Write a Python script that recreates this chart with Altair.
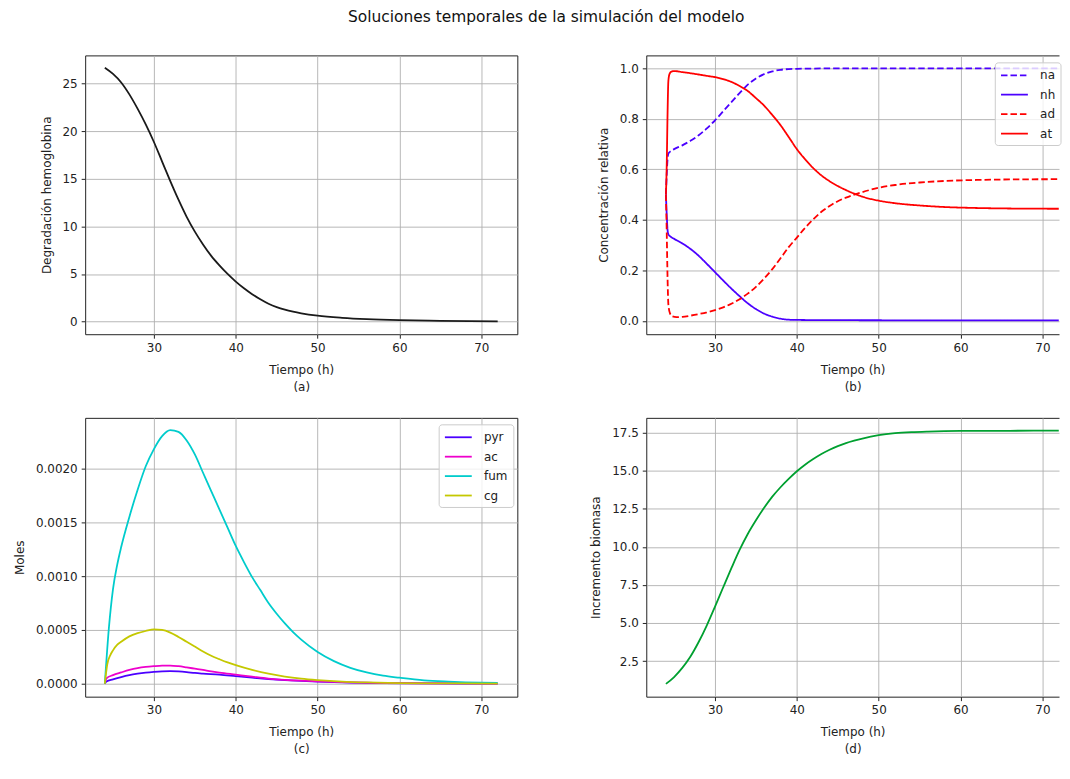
import altair as alt
import pandas as pd

# ---------------- data ----------------
# (a) Degradación hemoglobina
hb_t = [24, 25, 26, 27, 28, 29, 30, 31, 32, 33, 34, 35, 36, 37, 38, 39, 40,
        41, 42, 43, 44, 45, 46, 47, 48, 50, 53, 56, 60, 65, 72]
hb_v = [26.65, 26.0, 25.1, 23.85, 22.35, 20.7, 18.85, 16.8, 14.75, 12.8, 11.0,
        9.45, 8.1, 6.9, 5.9, 5.0, 4.2, 3.5, 2.88, 2.35, 1.88, 1.52, 1.25, 1.04,
        0.87, 0.62, 0.4, 0.26, 0.15, 0.08, 0.03]

# (b) Concentración relativa
na_t = [24.0, 24.1, 24.2, 24.3, 24.6, 25, 26, 27, 28, 29, 30, 31, 32, 33, 34,
        35, 36, 37, 38, 39, 40, 42, 45, 72]
na_v = [0.50, 0.58, 0.64, 0.662, 0.672, 0.68, 0.695, 0.713, 0.735, 0.762, 0.794,
        0.83, 0.866, 0.902, 0.935, 0.96, 0.977, 0.988, 0.994, 0.997, 0.998,
        0.999, 1.0, 1.0]
nh_t = [24.0, 24.1, 24.2, 24.3, 24.6, 25, 26, 27, 28, 29, 30, 31, 32, 33, 34,
        35, 36, 37, 38, 39, 40, 45, 72]
nh_v = [0.50, 0.42, 0.36, 0.343, 0.333, 0.325, 0.307, 0.285, 0.258, 0.226,
        0.193, 0.16, 0.128, 0.098, 0.07, 0.047, 0.029, 0.017, 0.009, 0.005,
        0.004, 0.003, 0.002]
ad_t = [24.0, 24.1, 24.2, 24.3, 24.5, 24.8, 25.3, 26, 27, 28, 29, 30, 31, 32,
        33, 34, 35, 36, 37, 38, 39, 40, 41, 42, 43, 44, 45, 46, 47, 48, 50, 52,
        55, 58, 62, 66, 72]
ad_v = [0.50, 0.35, 0.17, 0.065, 0.03, 0.018, 0.015, 0.016, 0.021, 0.027,
        0.034, 0.043, 0.054, 0.068, 0.086, 0.108, 0.135, 0.168, 0.205, 0.248,
        0.292, 0.33, 0.368, 0.402, 0.432, 0.455, 0.474, 0.488, 0.5, 0.51,
        0.527, 0.538, 0.548, 0.554, 0.558, 0.56, 0.561]
at_t = [24.0, 24.1, 24.2, 24.3, 24.45, 24.7, 25, 26, 27.5, 29, 30, 31, 32, 33,
        34, 35, 36, 37, 38, 39, 40, 41, 42, 43, 44, 45, 46, 47, 48, 50, 52, 55,
        58, 62, 66, 72]
at_v = [0.50, 0.62, 0.82, 0.95, 0.978, 0.987, 0.989, 0.985, 0.978, 0.97,
        0.965, 0.957, 0.946, 0.93, 0.91, 0.882, 0.852, 0.815, 0.775, 0.728,
        0.68, 0.64, 0.605, 0.576, 0.553, 0.534, 0.518, 0.504, 0.492, 0.476,
        0.466, 0.457, 0.451, 0.447, 0.445, 0.444]

# (c) Moles
pyr_t = [24, 24.2, 25, 26, 27, 28, 29, 30, 31, 32, 33, 34, 35, 36, 38, 40, 42,
         44, 46, 48, 50, 54, 58, 64, 72]
pyr_v = [0.0, 0.00002, 0.00004, 0.000062, 0.00008, 0.000093, 0.000103, 0.00011,
         0.000115, 0.000117, 0.000114, 0.000108, 0.0001, 0.000094, 0.000084,
         0.00007, 0.000056, 0.000044, 0.000034, 0.000026, 0.00002, 0.000011,
         0.000006, 0.000003, 0.000002]
ac_t = [24, 24.2, 25, 26, 27, 28, 29, 30, 31, 32, 33, 34, 35, 36, 37, 38, 40,
        42, 44, 46, 48, 50, 54, 58, 64, 72]
ac_v = [0.0, 0.00005, 0.00008, 0.000105, 0.000128, 0.000145, 0.000156,
        0.000163, 0.000168, 0.000169, 0.000163, 0.000152, 0.00014, 0.000128,
        0.000115, 0.000104, 0.000085, 0.000066, 0.000048, 0.000036, 0.000028,
        0.000022, 0.000012, 0.000007, 0.000004, 0.000002]
fum_t = [24, 24.5, 25, 25.5, 26, 27, 28, 29, 30, 31, 32, 33, 34, 35, 36, 37,
         38, 39, 40, 41, 42, 43, 44, 45, 46, 47, 48, 50, 52, 54, 56, 58, 60,
         63, 66, 70, 72]
fum_v = [0.0, 0.00052, 0.00088, 0.0011, 0.00127, 0.00155, 0.0018, 0.00202,
         0.00218, 0.0023, 0.002356, 0.00234, 0.00226, 0.00213, 0.00196,
         0.00179, 0.00162, 0.00145, 0.00128, 0.00113, 0.00099, 0.00087,
         0.00075, 0.00065, 0.00056, 0.00048, 0.00041, 0.000295, 0.00021,
         0.000148, 0.000105, 0.000075, 0.000056, 0.000032, 0.00002, 0.00001,
         0.000008]
cg_t = [24, 24.3, 24.7, 25, 25.5, 26, 27, 28, 29, 30, 31, 32, 33, 34, 35, 36,
        37, 38, 39, 40, 42, 44, 46, 48, 50, 53, 56, 60, 66, 72]
cg_v = [0.0, 0.00018, 0.00027, 0.00031, 0.00036, 0.00039, 0.00044, 0.00047,
        0.00049, 0.000505, 0.0005, 0.000475, 0.000435, 0.00039, 0.000345,
        0.0003, 0.00026, 0.000228, 0.000198, 0.000172, 0.000128, 0.000093,
        0.000066, 0.000047, 0.000034, 0.00002, 0.000012, 0.000006, 0.000003,
        0.000002]

# (d) Incremento biomasa
bio_t = [24, 25, 26, 27, 28, 29, 30, 31, 32, 33, 34, 35, 36, 37, 38, 39, 40,
         41, 42, 43, 44, 45, 46, 47, 48, 50, 52, 54, 56, 60, 66, 72]
bio_v = [1.0, 1.45, 2.05, 2.8, 3.75, 4.85, 6.08, 7.35, 8.6, 9.8, 10.85, 11.75,
         12.57, 13.3, 13.92, 14.47, 14.97, 15.4, 15.77, 16.1, 16.38, 16.62,
         16.82, 16.98, 17.12, 17.34, 17.47, 17.54, 17.58, 17.62, 17.63, 17.64]

b_names = ["na", "nh", "ad", "at"]
b_colors = ["#4b00ff", "#4b00ff", "#ff0000", "#ff0000"]
b_dashes = [[6.5, 3], [1, 0], [6.5, 3], [1, 0]]
c_names = ["pyr", "ac", "fum", "cg"]
c_colors = ["#4b00ff", "#ee00cc", "#00cccc", "#c4c800"]

x_ticks = [30, 40, 50, 60, 70]

# ---------------- styling ----------------
FONT = "DejaVu Sans"
TXT = "#222222"
FRAME = "#222222"
WL, WR, H = 434, 414.5, 280
XDOM_L = [21.6, 74.4]
XDOM_R = [21.6, 72.03]   # right column is cut by the picture edge, as in the reference


def long_df(names, series):
    rows = []
    for name, (ts, vs) in zip(names, series):
        for t, v in zip(ts, vs):
            rows.append({"t": t, "v": v, "s": name})
    return pd.DataFrame(rows)


def xenc(caption, dom):
    return alt.X("t:Q",
                 scale=alt.Scale(domain=dom, nice=False, zero=False),
                 axis=alt.Axis(values=x_ticks, format="d",
                               title=["Tiempo (h)", caption]))


def yenc(title, dom, ticks, fmt):
    return alt.Y("v:Q",
                 scale=alt.Scale(domain=dom, nice=False, zero=False),
                 axis=alt.Axis(values=ticks, format=fmt, title=title))


def legend(lx, ly):
    return alt.Legend(title=None, orient="none", legendX=lx, legendY=ly,
                      symbolType="M-2,0H2", symbolSize=182, symbolOffset=6.75,
                      symbolStrokeWidth=1.8, labelOffset=17.75, rowPadding=5.5,
                      padding=5, fillColor="rgba(255,255,255,0.8)",
                      strokeColor="#cccccc", cornerRadius=3,
                      labelFont=FONT, labelFontSize=12, labelColor=TXT)


# right-hand frames: top, bottom and left sides only (the right side is off the picture)
right_view = alt.ViewBackground(stroke=FRAME, strokeWidth=1,
                                strokeDash=[WR, H, WR + H + 1, 2])

line = dict(strokeWidth=1.8, interpolate="monotone", clip=True)

df_a = pd.DataFrame({"t": hb_t, "v": hb_v})
pa = alt.Chart(df_a).mark_line(color="#1a1a1a", **line).encode(
    x=xenc("(a)", XDOM_L),
    y=yenc("Degradación hemoglobina", [-1.32, 27.94], [0, 5, 10, 15, 20, 25], "d"),
).properties(width=WL, height=H)

df_b = long_df(b_names, [(na_t, na_v), (nh_t, nh_v), (ad_t, ad_v), (at_t, at_v)])
lb = legend(350, 7)
pb = alt.Chart(df_b).mark_line(**line).encode(
    x=xenc("(b)", XDOM_R),
    y=yenc("Concentración relativa", [-0.0525, 1.051],
           [0, 0.2, 0.4, 0.6, 0.8, 1.0], ".1f"),
    color=alt.Color("s:N", scale=alt.Scale(domain=b_names, range=b_colors), legend=lb),
    strokeDash=alt.StrokeDash("s:N", scale=alt.Scale(domain=b_names, range=b_dashes), legend=lb),
).properties(width=WR, height=H, view=right_view)

df_c = long_df(c_names, [(pyr_t, pyr_v), (ac_t, ac_v), (fum_t, fum_v), (cg_t, cg_v)])
pc = alt.Chart(df_c).mark_line(**line).encode(
    x=xenc("(c)", XDOM_L),
    y=yenc("Moles", [-0.00012, 0.00247],
           [0, 0.0005, 0.001, 0.0015, 0.002], ".4f"),
    color=alt.Color("s:N", scale=alt.Scale(domain=c_names, range=c_colors),
                    legend=legend(355, 6.5)),
).properties(width=WL, height=H)

df_d = pd.DataFrame({"t": bio_t, "v": bio_v})
pd_ = alt.Chart(df_d).mark_line(color="#00a030", **line).encode(
    x=xenc("(d)", XDOM_R),
    y=yenc("Incremento biomasa", [0.16, 18.48],
           [2.5, 5.0, 7.5, 10.0, 12.5, 15.0, 17.5], ".1f"),
).properties(width=WR, height=H, view=right_view)

chart = alt.concat(
    pa, pb, pc, pd_, columns=2, bounds="flush", align="each",
    spacing={"row": 84, "column": 129.5},
).resolve_scale(
    color="independent", strokeDash="independent"
).properties(
    title=alt.TitleParams(
        "Soluciones temporales de la simulación del modelo",
        font=FONT, fontSize=15.5, fontWeight="normal", color="#111111",
        anchor="middle", frame="bounds", offset=29.6, dx=9),
    padding={"left": 4.5, "top": 0, "right": 0, "bottom": 0},
).configure_view(
    stroke=FRAME, strokeWidth=1
).configure_axis(
    domain=False, grid=True, gridColor="#b0b0b0", gridWidth=0.9,
    tickColor=TXT, tickSize=4, tickWidth=1,
    labelFont=FONT, labelFontSize=12, labelColor=TXT, labelPadding=4,
    titleFont=FONT, titleFontSize=12, titleFontWeight="normal",
    titleColor=TXT, titleLineHeight=17.5,
).configure_axisX(
    titlePadding=11
).configure_axisY(
    titlePadding=9
)

chart.save("out.html", embed_options={"renderer": "svg", "actions": False})
